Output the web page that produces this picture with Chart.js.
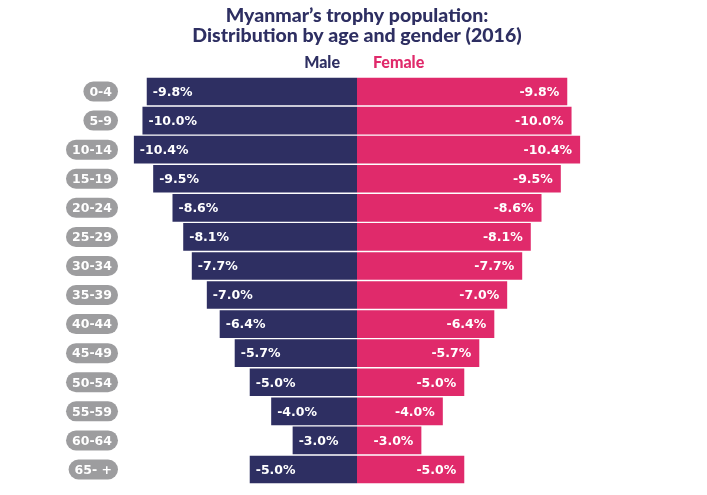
<!DOCTYPE html>
<html>
<head>
<meta charset="utf-8">
<script src="https://cdn.jsdelivr.net/npm/chart.js@4"></script>
<style>
  html, body { margin: 0; padding: 0; background: #fff; }
  #wrap { width: 707px; height: 495px; }
</style>
</head>
<body>
<div id="wrap"><canvas id="c" width="707" height="495"></canvas></div>
<script>
const ageGroups = ['0-4', '5-9', '10-14', '15-19', '20-24', '25-29', '30-34', '35-39', '40-44', '45-49', '50-54', '55-59', '60-64', '65- +'];
const male = [9.8, 10.0, 10.4, 9.5, 8.6, 8.1, 7.7, 7.0, 6.4, 5.7, 5.0, 4.0, 3.0, 5.0];
const female = [9.8, 10.0, 10.4, 9.5, 8.6, 8.1, 7.7, 7.0, 6.4, 5.7, 5.0, 4.0, 3.0, 5.0];
const seriesNames = ['Male', 'Female'];

const NAVY = '#2e2f62';
const PINK = '#e02a6b';
const FONT = 'Lato, "DejaVu Sans", sans-serif';
const LABEL_FONT = '"DejaVu Sans", sans-serif';

// legend words, gray pills for the age groups, white value labels in the bars
const decorations = {
  id: 'decorations',
  afterDatasetsDraw(chart) {
    const ctx = chart.ctx;
    const y = chart.scales.y;
    const mid = chart.scales.x.getPixelForValue(0);
    ctx.save();
    ctx.textBaseline = 'middle';

    ctx.font = '900 16px ' + FONT;
    ctx.fillStyle = NAVY;
    ctx.textAlign = 'right';
    ctx.fillText(seriesNames[0], mid - 17, 63);
    ctx.fillStyle = PINK;
    ctx.textAlign = 'left';
    ctx.fillText(seriesNames[1], mid + 16, 63);

    ctx.font = 'bold 12.5px ' + LABEL_FONT;
    ageGroups.forEach((g, i) => {
      const cy = y.getPixelForValue(i);
      const w = ctx.measureText(g).width + 12;
      const h = 20, right = 118, left = right - w;
      ctx.fillStyle = '#9d9d9f';
      ctx.beginPath();
      ctx.roundRect(left, cy - h / 2, w, h, h / 2);
      ctx.fill();
      ctx.fillStyle = '#fff';
      ctx.textAlign = 'center';
      ctx.fillText(g, left + w / 2, cy + 1);
    });

    chart.getDatasetMeta(0).data.forEach((bar, i) => {
      ctx.fillStyle = '#fff';
      ctx.textAlign = 'left';
      ctx.fillText('-' + male[i].toFixed(1) + '%', bar.x + 6, bar.y + 1);
    });
    chart.getDatasetMeta(1).data.forEach((bar, i) => {
      ctx.fillStyle = '#fff';
      ctx.textAlign = 'right';
      ctx.fillText('-' + female[i].toFixed(1) + '%', bar.x - 8, bar.y + 1);
    });
    ctx.restore();
  }
};

new Chart(document.getElementById('c'), {
  type: 'bar',
  data: {
    labels: ageGroups,
    datasets: [
      { label: seriesNames[0], data: male.map(v => -v), backgroundColor: NAVY },
      { label: seriesNames[1], data: female, backgroundColor: PINK }
    ]
  },
  options: {
    indexAxis: 'y',
    responsive: false,
    animation: false,
    devicePixelRatio: 1,
    layout: { padding: { left: 121, right: 114, top: 0, bottom: 11 } },
    datasets: { bar: { categoryPercentage: 1, barPercentage: 0.95 } },
    scales: {
      x: { stacked: true, min: -11, max: 11, display: false },
      y: { stacked: true, display: false }
    },
    plugins: {
      title: {
        display: true,
        text: ["Myanmar\u2019s trophy population:", 'Distribution by age and gender (2016)'],
        color: NAVY,
        font: { family: FONT, size: 19.5, weight: '900', lineHeight: 1.0 },
        padding: { top: 6, bottom: 32 }
      },
      legend: { display: false },
      tooltip: { enabled: false }
    }
  },
  plugins: [decorations]
});
</script>
</body>
</html>
